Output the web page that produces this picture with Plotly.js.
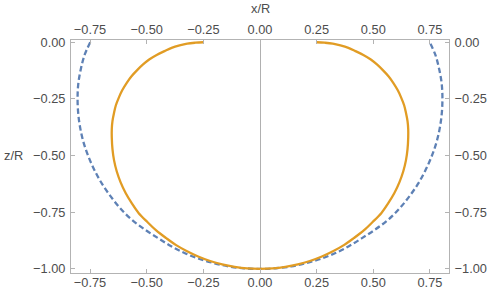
<!DOCTYPE html>
<html>
<head>
<meta charset="utf-8">
<script src="https://cdn.plot.ly/plotly-3.0.1.min.js"></script>
<style>html,body{margin:0;padding:0;background:#fff;}#chart{width:490px;height:291px;}</style>
</head>
<body>
<div id="chart"></div>
<script>
// Data (x/R, z/R), traced left top -> bottom -> right top
const blueX = [-0.749, -0.774, -0.791, -0.802, -0.805, -0.802, -0.793, -0.778, -0.756, -0.729, -0.697, -0.659, -0.617, -0.569, -0.510, -0.450, -0.392, -0.333, -0.270, -0.205, -0.138, -0.070, 0.000,
               0.070, 0.138, 0.205, 0.270, 0.333, 0.392, 0.450, 0.510, 0.569, 0.617, 0.659, 0.697, 0.729, 0.756, 0.778, 0.793, 0.802, 0.805, 0.802, 0.791, 0.774, 0.749];
const blueZ = [0.000, -0.056, -0.120, -0.185, -0.250, -0.315, -0.380, -0.444, -0.507, -0.567, -0.625, -0.680, -0.732, -0.780, -0.825, -0.864, -0.900, -0.930, -0.955, -0.974, -0.989, -0.997, -1.000,
               -0.997, -0.989, -0.974, -0.955, -0.930, -0.900, -0.864, -0.825, -0.780, -0.732, -0.680, -0.625, -0.567, -0.507, -0.444, -0.380, -0.315, -0.250, -0.185, -0.120, -0.056, 0.000];

const orangeX = [-0.250, -0.285, -0.321, -0.355, -0.390, -0.421, -0.456, -0.489, -0.516, -0.542, -0.567, -0.588, -0.608, -0.622, -0.636, -0.644, -0.651, -0.654, -0.654,
                 -0.651, -0.644, -0.632, -0.615, -0.593, -0.566, -0.536, -0.497, -0.458, -0.414, -0.370, -0.322, -0.273, -0.220, -0.167, -0.112, -0.057, 0.000,
                 0.057, 0.112, 0.167, 0.220, 0.273, 0.322, 0.370, 0.414, 0.458, 0.497, 0.536, 0.566, 0.593, 0.615, 0.632, 0.644, 0.651,
                 0.654, 0.654, 0.651, 0.644, 0.636, 0.622, 0.608, 0.588, 0.567, 0.542, 0.516, 0.489, 0.456, 0.421, 0.390, 0.355, 0.321, 0.285, 0.250];
const orangeZ = [0.000, -0.002, -0.006, -0.014, -0.025, -0.039, -0.056, -0.076, -0.098, -0.123, -0.150, -0.179, -0.212, -0.242, -0.278, -0.311, -0.348, -0.383, -0.420,
                 -0.471, -0.521, -0.570, -0.618, -0.665, -0.710, -0.753, -0.793, -0.830, -0.864, -0.895, -0.922, -0.945, -0.965, -0.980, -0.991, -0.998, -1.000,
                 -0.998, -0.991, -0.980, -0.965, -0.945, -0.922, -0.895, -0.864, -0.830, -0.793, -0.753, -0.710, -0.665, -0.618, -0.570, -0.521, -0.471,
                 -0.420, -0.383, -0.348, -0.311, -0.278, -0.242, -0.212, -0.179, -0.150, -0.123, -0.098, -0.076, -0.056, -0.039, -0.025, -0.014, -0.006, -0.002, 0.000];

const xTicks = [-0.75, -0.5, -0.25, 0, 0.25, 0.5, 0.75];
const zTicks = [0, -0.25, -0.5, -0.75, -1];
const xLabel = "x/R";
const zLabel = "z/R";

const xRange = [-0.834, 0.834];
const zRange = [-1.018, 0.010];

const frameColor = '#b3b3b3';
const labelColor = '#4d4d4d';
const font = {family: 'Liberation Sans, Arial, sans-serif', size: 12.8, color: labelColor};

const traces = [
  {x: blueX, y: blueZ, type: 'scatter', mode: 'lines',
   line: {color: '#5E81B5', width: 2.3, dash: '5.5px,3px', shape: 'spline', smoothing: 1},
   hoverinfo: 'skip', showlegend: false},
  {x: orangeX, y: orangeZ, type: 'scatter', mode: 'lines',
   line: {color: '#E19C24', width: 2.3, shape: 'spline', smoothing: 1},
   hoverinfo: 'skip', showlegend: false},
  {x: [0], y: [-0.5], xaxis: 'x2', yaxis: 'y2', type: 'scatter', mode: 'markers',
   marker: {opacity: 0}, hoverinfo: 'skip', showlegend: false}
];

const axCommon = {
  ticks: 'inside', ticklen: 4, tickwidth: 1, tickcolor: frameColor,
  showline: true, linecolor: frameColor, linewidth: 1,
  showgrid: false, tickformat: '.2f', tickfont: font, fixedrange: true
};

const layout = {
  width: 490, height: 291,
  margin: {l: 71, r: 41, t: 40, b: 18, pad: 0},
  paper_bgcolor: '#fff', plot_bgcolor: '#fff',
  showlegend: false,
  xaxis: Object.assign({}, axCommon, {range: xRange, tickvals: xTicks, side: 'bottom',
     zeroline: true, zerolinecolor: '#b0b0b0', zerolinewidth: 1, ticklabelstandoff: -2}),
  xaxis2: Object.assign({}, axCommon, {range: xRange, tickvals: xTicks, side: 'top',
     overlaying: 'x', anchor: 'y', zeroline: false, ticklabelstandoff: 0}),
  yaxis: Object.assign({}, axCommon, {range: zRange, tickvals: zTicks, side: 'left',
     zeroline: false, ticklabelstandoff: 2}),
  yaxis2: Object.assign({}, axCommon, {range: zRange, tickvals: zTicks, side: 'right',
     overlaying: 'y', anchor: 'x', zeroline: false, ticklabelstandoff: 2}),
  annotations: [
    {text: xLabel, xref: 'paper', yref: 'paper', x: 0.5, y: 1, yshift: 32, showarrow: false,
     font: font, xanchor: 'center', yanchor: 'middle'},
    {text: zLabel, xref: 'paper', yref: 'y', x: 0, xshift: -58, y: -0.5, showarrow: false,
     font: font, xanchor: 'center', yanchor: 'middle'}
  ]
};

Plotly.newPlot('chart', traces, layout, {staticPlot: true, displayModeBar: false});
</script>
</body>
</html>
